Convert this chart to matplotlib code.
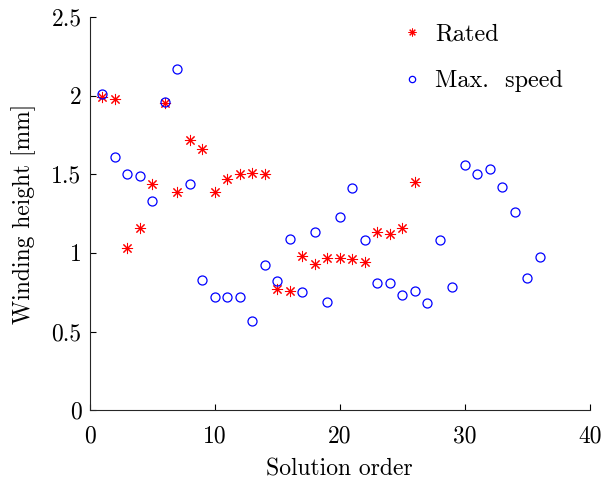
import numpy as np
import matplotlib
matplotlib.use("Agg")
from matplotlib import pyplot as plt

# solution order (1..36)
order_rated = np.arange(1, 27)
order_speed = np.arange(1, 37)

# winding height [mm]
rated = [1.99, 1.98, 1.03, 1.16, 1.44, 1.95, 1.39, 1.72, 1.66, 1.39,
         1.47, 1.50, 1.51, 1.50, 0.77, 0.76, 0.98, 0.93, 0.97, 0.97,
         0.96, 0.94, 1.13, 1.12, 1.16, 1.45]
max_speed = [2.01, 1.61, 1.50, 1.49, 1.33, 1.96, 2.17, 1.44, 0.83, 0.72,
             0.72, 0.72, 0.57, 0.92, 0.82, 1.09, 0.75, 1.13, 0.69, 1.23,
             1.41, 1.08, 0.81, 0.81, 0.73, 0.76, 0.68, 1.08, 0.78, 1.56,
             1.50, 1.53, 1.42, 1.26, 0.84, 0.975]

plt.rcParams['font.family'] = 'serif'
plt.rcParams['font.serif'] = ['cmr10', 'DejaVu Serif']
plt.rcParams['mathtext.fontset'] = 'cm'
plt.rcParams['axes.unicode_minus'] = False

fig = plt.figure(figsize=(6.03, 4.82), dpi=100)
ax = fig.add_axes([0.149, 0.149, 0.829, 0.816])

asterisk = (8, 2, 0)
ax.plot(order_rated, rated, linestyle='none', marker=asterisk, ms=8,
        mec='red', mew=0.75, color='red', label='Rated')
ax.plot(order_speed, max_speed, linestyle='none', marker='o', ms=6.5,
        mfc='none', mec='blue', mew=0.9, label='Max.  speed')

ax.set_xlim(0, 40)
ax.set_ylim(0, 2.5)
ax.set_xticks([0, 10, 20, 30, 40])
ax.set_yticks([0, 0.5, 1, 1.5, 2, 2.5])
ax.set_yticklabels(['0', '0.5', '1', '1.5', '2', '2.5'])
ax.tick_params(direction='in', labelsize=17, length=4, width=0.8)
ax.tick_params(axis='x', pad=11)
ax.tick_params(axis='y', pad=6)
ax.spines['top'].set_visible(False)
ax.spines['right'].set_visible(False)
for s in ('left', 'bottom'):
    ax.spines[s].set_linewidth(0.8)
    ax.spines[s].set_color('#262626')

ax.set_xlabel('Solution order', fontsize=17, labelpad=8)
ax.set_ylabel('Winding height [mm]', fontsize=17, labelpad=11)

ax.legend(loc='upper right', frameon=False, fontsize=17.5, markerscale=0.7,
          handlelength=1.2, handletextpad=0.35, borderaxespad=0.2,
          labelspacing=1.0, bbox_to_anchor=(0.975, 1.02))

fig.savefig("out.png", dpi=100)
